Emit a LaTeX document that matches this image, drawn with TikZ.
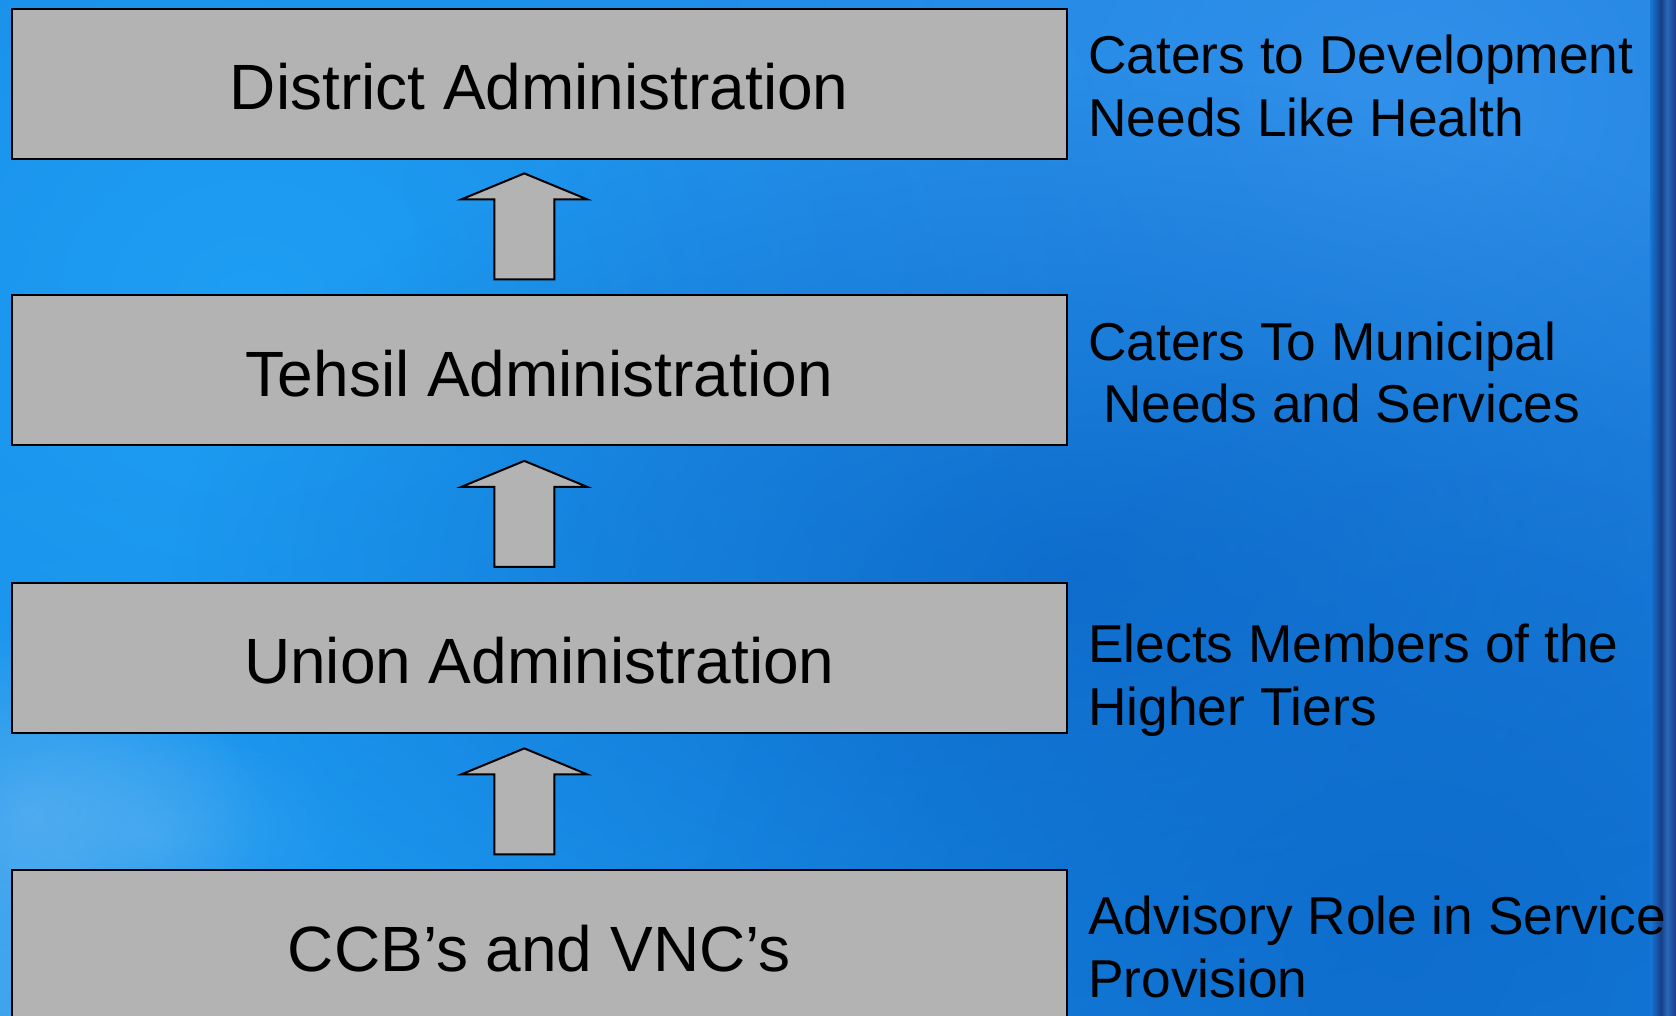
\documentclass[tikz,border=0pt]{standalone}
\usepackage{fontspec}
\setmainfont{Liberation Sans}
\usetikzlibrary{calc,fadings}

\definecolor{bgbase}{HTML}{1479D8}
\definecolor{bgcyan}{HTML}{1E9EF4}
\definecolor{bglight}{HTML}{3190EA}
\definecolor{bgdeep}{HTML}{0C68C8}
\definecolor{coral}{HTML}{9CCFF5}
\definecolor{edgedark}{HTML}{173F88}
\definecolor{edgemid}{HTML}{2A68BC}
\definecolor{boxgray}{HTML}{B3B3B3}

% soft round blob: opaque centre, clear rim (reaches clear at a quarter of the box)
\tikzfading[name=softblob, inner color=transparent!0, outer color=transparent!100]

\begin{document}
\begin{tikzpicture}[x=0.5pt,y=-0.5pt,
  tierbox/.style={draw=black, line width=1pt, fill=boxgray,
    minimum width=527.5pt, minimum height=75pt, inner sep=0pt,
    font=\fontsize{32}{38}\selectfont, text height=26pt, text depth=0pt},
  uparrow/.style={draw=black, line width=1pt, fill=boxgray, line join=miter},
  note/.style={anchor=base west, inner sep=0pt,
    font=\fontsize{26.65}{31.5}\selectfont}]

% sea-blue backdrop
\clip (0,0) rectangle (1676,1016);
\fill[bgbase] (0,0) rectangle (1676,1016);
\fill[bgcyan, path fading=softblob] (-1150,-900) rectangle (1650,1500);
\fill[bgcyan, path fading=softblob, opacity=0.7] (-700,250) rectangle (1100,1650);
\fill[bglight, path fading=softblob] (400,-700) rectangle (2400,900);
\fill[bgdeep, path fading=softblob, opacity=0.8] (175,75) rectangle (1975,1075);
\fill[bgdeep, path fading=softblob, opacity=0.6] (700,350) rectangle (2100,1550);

% pale coral texture, lower left
\fill[coral, path fading=softblob, opacity=0.35] (-200,620) rectangle (260,1000);
\fill[coral, path fading=softblob, opacity=0.3] (-160,800) rectangle (160,1200);
\fill[coral, path fading=softblob, opacity=0.2] (-40,720) rectangle (340,940);

% shaded frame edge on the right
\shade[left color=bgbase, right color=edgedark] (1650,0) rectangle (1661,1016);
\shade[left color=edgedark, right color=edgemid] (1661,0) rectangle (1667,1016);
\shade[left color=edgemid, right color=edgedark] (1667,0) rectangle (1676,1016);

% tiers
\node[tierbox] (dist) at (539.3,83.9)  {District Administration};
\node[tierbox] (teh)  at (539.3,370.4) {Tehsil Administration};
\node[tierbox] (uni)  at (539.3,657.9) {Union Administration};
\node[tierbox] (ccb)  at (539.3,945.4) {CCB’s and VNC’s};

% block arrows pointing up to the next tier
\foreach \lo/\hi in {teh/dist, uni/teh, ccb/uni}{
  \draw[uparrow] ($(\lo.north)+(-45,-15)$) -- ++(60,0) -- ++(0,-80)
    -- ++(33,0) -- ++(-63,-26) -- ++(-63,26) -- ++(33,0) -- cycle;
}

% role of each tier
\node[note] (r1) at (1088,74)
  {\parbox[t]{330pt}{\raggedright Caters to Development\\Needs Like Health}};
\node[note] (r2) at (1088,360)
  {\parbox[t]{330pt}{\raggedright Caters To Municipal\\\hspace*{7.4pt}Needs and Services}};
\node[note] (r3) at (1088,662)
  {\parbox[t]{330pt}{\raggedright Elects Members of the\\Higher Tiers}};
\node[note] (r4) at (1088,934)
  {\parbox[t]{330pt}{\raggedright Advisory Role in Service\\Provision}};

\end{tikzpicture}
\end{document}
